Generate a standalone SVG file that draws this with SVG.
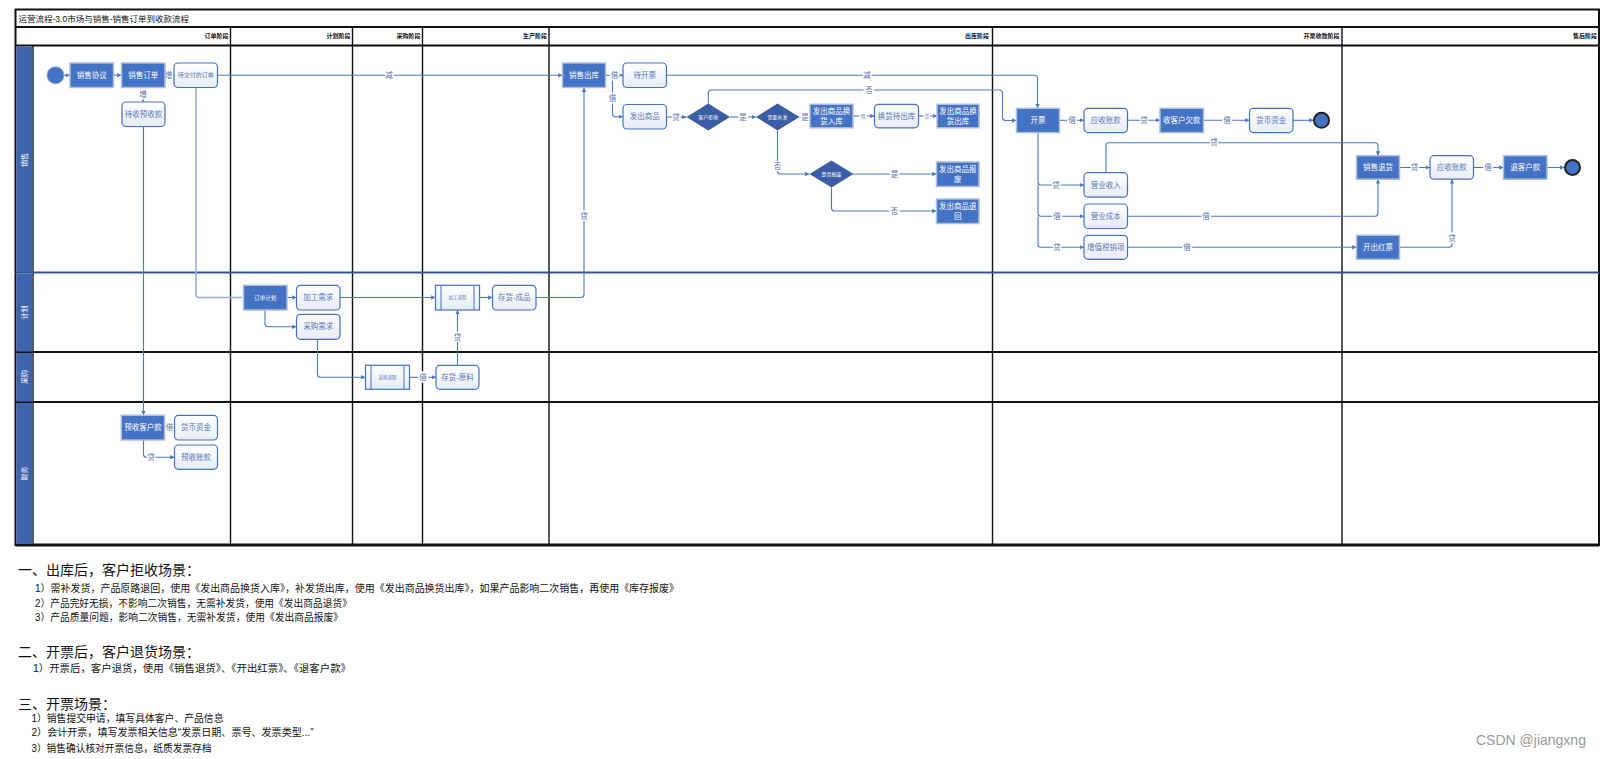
<svg xmlns="http://www.w3.org/2000/svg" width="1619" height="759" viewBox="0 0 1619 759">
<style>
text{font-family:'Liberation Sans','Noto Sans CJK SC',sans-serif}
.bx{fill:#4472C4;stroke:#AFBEDA;stroke-width:1.5}
.rd{fill:url(#g);stroke:#4472C4;stroke-width:1.2}
.dm{fill:#3A5DA5}
.tw{fill:#fff;font-size:7.5px;text-anchor:middle;dominant-baseline:central}
.tb{fill:#5A78B6;font-size:7.5px;text-anchor:middle;dominant-baseline:central}
.ts{font-size:5.5px}
.td{fill:#fff;font-size:5px;text-anchor:middle;dominant-baseline:central}
.c{fill:none;stroke:#4A78C8;stroke-width:1.1;marker-end:url(#a)}
.cl{fill:none;stroke:#94B0E0;stroke-width:1.6}
.lb{fill:#5873AE;font-size:7.5px;text-anchor:middle;dominant-baseline:central;stroke:#fff;stroke-width:3;paint-order:stroke}
.hd{fill:#111;font-size:6px;font-weight:bold;text-anchor:end;dominant-baseline:central}
.ln{fill:#fff;font-size:7px;text-anchor:middle;dominant-baseline:central}
.frm{stroke:#111;fill:none}
.h1{font-size:14px;fill:#111}
.p{font-size:10px;fill:#111}
</style>
<defs>
<linearGradient id="g" x1="0" y1="0" x2="0" y2="1"><stop offset="0" stop-color="#fff"/><stop offset="1" stop-color="#E6ECF7"/></linearGradient>
<marker id="a" viewBox="0 0 6 6" refX="6" refY="3" markerWidth="4" markerHeight="4" orient="auto"><path d="M0,0L6,3L0,6z" fill="#4A78C8"/></marker>
</defs>
<rect width="1619" height="759" fill="#fff"/>

<g id="frame">
<rect x="15.5" y="9.5" width="1583.5" height="535.5" class="frm" stroke-width="2"/>
<line x1="15.5" y1="27" x2="1599" y2="27" class="frm" stroke-width="1.8"/>
<line x1="15.5" y1="45.5" x2="1599" y2="45.5" class="frm" stroke-width="1.8"/>
<g class="frm" stroke-width="1.4">
<line x1="230.5" y1="27" x2="230.5" y2="545"/>
<line x1="352.5" y1="27" x2="352.5" y2="545"/>
<line x1="422.5" y1="27" x2="422.5" y2="545"/>
<line x1="549" y1="27" x2="549" y2="545"/>
<line x1="992.5" y1="27" x2="992.5" y2="545"/>
<line x1="1342" y1="27" x2="1342" y2="545"/>
<line x1="33" y1="45.5" x2="33" y2="545"/>
</g>
<line x1="15.5" y1="272.5" x2="1599" y2="272.5" stroke="#2F5597" stroke-width="1.8"/>
<line x1="15.5" y1="352" x2="1599" y2="352" stroke="#111" stroke-width="2"/>
<line x1="15.5" y1="402" x2="1599" y2="402" stroke="#111" stroke-width="2"/>
<line x1="15.5" y1="545" x2="1599" y2="545" stroke="#111" stroke-width="3"/>
<rect x="16.5" y="46.5" width="16" height="225.5" fill="#3F64AE"/>
<rect x="16.5" y="273.5" width="16" height="78" fill="#3F64AE"/>
<rect x="16.5" y="353" width="16" height="48.5" fill="#3F64AE"/>
<rect x="16.5" y="403" width="16" height="141" fill="#3F64AE"/>
<text x="18.5" y="18.5" font-size="8.5" fill="#111" dominant-baseline="central">运营流程-3.0市场与销售-销售订单到收款流程</text>
<text x="228.5" y="36" class="hd">订单阶段</text>
<text x="350.5" y="36" class="hd">计划阶段</text>
<text x="420.5" y="36" class="hd">采购阶段</text>
<text x="547" y="36" class="hd">生产阶段</text>
<text x="989" y="36" class="hd">出库阶段</text>
<text x="1339.5" y="36" class="hd">开票收款阶段</text>
<text x="1597" y="36" class="hd">售后阶段</text>
<text class="ln" transform="translate(24.5,160) rotate(-90)">销售</text>
<text class="ln" transform="translate(24.5,312.5) rotate(-90)">计划</text>
<text class="ln" transform="translate(24.5,377) rotate(-90)">采购</text>
<text class="ln" transform="translate(24.5,473.5) rotate(-90)">财务</text>
</g>

<g id="connectors">
<path class="cl" d="M196,87.5V294.5Q196,297.5 199,297.5H242"/>
<path class="c" d="M64,75.3H70"/>
<path class="c" d="M113.5,75.3H121.5"/>
<path class="c" d="M165,75.3H174"/>
<path class="c" d="M143,87.5V102"/>
<path class="c" d="M217.5,75.3H562.5"/>
<path class="c" d="M143.5,126.5V415.3"/>
<path class="c" d="M605.5,75.3H623"/>
<path class="c" d="M612.5,75.3V113.7Q612.5,116.7 615.5,116.7H623"/>
<path class="c" d="M666.5,75.3H1034.5Q1037.5,75.3 1037.5,78.3V108.3"/>
<path class="c" d="M666.5,117H686.5"/>
<path class="c" d="M730,117H756"/>
<path class="c" d="M799.5,117H810"/>
<path class="c" d="M853,116H874.5"/>
<path class="c" d="M918.5,116H937"/>
<path class="c" d="M708.3,103.5V93Q708.3,90 711.3,90H999.5Q1002.5,90 1002.5,93V117.5Q1002.5,120.5 1005.5,120.5H1016.5"/>
<path class="c" d="M777.5,130.5V171Q777.5,174 780.5,174H809.5"/>
<path class="c" d="M853.5,174H936.5"/>
<path class="c" d="M831.5,187.5V208Q831.5,211 834.5,211H936.5"/>
<path class="c" d="M536,297.5H581Q584,297.5 584,294.5V87.5"/>
<path class="c" d="M1059.5,120.3H1084"/>
<path class="c" d="M1127.5,120.3H1160"/>
<path class="c" d="M1203.5,120.3H1249.5"/>
<path class="c" d="M1293,120.3H1313.5"/>
<path class="c" d="M1038,132.5V182Q1038,185 1041,185H1084"/>
<path class="c" d="M1038,185V213.3Q1038,216.3 1041,216.3H1084"/>
<path class="c" d="M1038,216.3V244.3Q1038,247.3 1041,247.3H1084"/>
<path class="c" d="M1106,172.7V145.7Q1106,142.7 1109,142.7H1375Q1378,142.7 1378,145.7V155.7"/>
<path class="c" d="M1127.5,216.3H1375Q1378,216.3 1378,213.3V179.2"/>
<path class="c" d="M1127.5,247.3H1356.5"/>
<path class="c" d="M1399.5,247.3H1449Q1452,247.3 1452,244.3V179.2"/>
<path class="c" d="M1399.5,167.5H1430"/>
<path class="c" d="M1473.5,167.5H1503.5"/>
<path class="c" d="M1547,167.5H1564.5"/>
<path class="c" d="M287,297.5H296.5"/>
<path class="c" d="M265,310V323.7Q265,326.7 268,326.7H296.5"/>
<path class="c" d="M340,297.5H435.5"/>
<path class="c" d="M479.5,297.5H492.5"/>
<path class="c" d="M317.5,339.3V374.3Q317.5,377.3 320.5,377.3H365.5"/>
<path class="c" d="M409.5,377.3H436"/>
<path class="c" d="M457.5,365.3V310"/>
<path class="c" d="M164.6,427.5H174.5"/>
<path class="c" d="M143.5,440V454.3Q143.5,457.3 146.5,457.3H174.5"/>
<text class="lb" x="168.5" y="75.3">增</text>
<text class="lb" x="143" y="94.5">增</text>
<text class="lb" x="389" y="75.3">减</text>
<text class="lb" x="614.5" y="75.3">借</text>
<text class="lb" x="612.5" y="98">借</text>
<text class="lb" x="867" y="75.3">减</text>
<text class="lb" x="676" y="117">贷</text>
<text class="lb" x="743" y="117">是</text>
<text class="lb" x="805" y="117">是</text>
<text class="lb" x="863" y="116" style="font-size:4.5px">借</text>
<text class="lb" x="927" y="116" style="font-size:4.5px">贷</text>
<text class="lb" x="869" y="90">否</text>
<text class="lb" x="777.5" y="166.7">否</text>
<text class="lb" x="894.5" y="174">是</text>
<text class="lb" x="894.5" y="211">否</text>
<text class="lb" x="584" y="216">贷</text>
<text class="lb" x="1072" y="120.3">借</text>
<text class="lb" x="1144" y="120.3">贷</text>
<text class="lb" x="1227" y="120.3">借</text>
<text class="lb" x="1056" y="185">贷</text>
<text class="lb" x="1057" y="216.3">借</text>
<text class="lb" x="1057" y="247.3">贷</text>
<text class="lb" x="1214" y="142.7">贷</text>
<text class="lb" x="1206" y="216.3">借</text>
<text class="lb" x="1187" y="247.3">借</text>
<text class="lb" x="1452" y="238.3">贷</text>
<text class="lb" x="1414.5" y="167.5">贷</text>
<text class="lb" x="1488" y="167.5">借</text>
<text class="lb" x="423" y="377.3">借</text>
<text class="lb" x="457.5" y="337">贷</text>
<text class="lb" x="169.5" y="427.5">借</text>
<text class="lb" x="151" y="457.3">贷</text>
</g>

<g id="start"><circle cx="55.5" cy="75.3" r="8.5" fill="#4472C4" stroke="#8FAADC" stroke-width="1"/></g>
<g id="n-xsxy"><rect class="bx" x="70" y="63" width="43.5" height="24.5"/><text class="tw" x="91.8" y="75.3">销售协议</text></g>
<g id="n-xsdd"><rect class="bx" x="121.5" y="63" width="43.5" height="24.5"/><text class="tw" x="143.2" y="75.3">销售订单</text></g>
<g id="n-djfdd"><rect class="rd" x="174" y="63" width="43.5" height="24.5" rx="4"/><text class="tb" x="195.8" y="75.3" style="font-size:6px">待交付的订单</text></g>
<g id="n-dsysk"><rect class="rd" x="122" y="102" width="43" height="24.5" rx="4"/><text class="tb" x="143.5" y="114.3">待收预收款</text></g>
<g id="n-xsck"><rect class="bx" x="562.5" y="63" width="43" height="24.5"/><text class="tw" x="584" y="75.3">销售出库</text></g>
<g id="n-dkp"><rect class="rd" x="623" y="63" width="43.5" height="24.5" rx="4"/><text class="tb" x="644.8" y="75.3">待开票</text></g>
<g id="n-fcsp"><rect class="rd" x="623" y="104.5" width="43.5" height="24.5" rx="4"/><text class="tb" x="644.8" y="116.8">发出商品</text></g>
<g id="d-khjs"><path class="dm" d="M686.5,117L708.3,103.5L730,117L708.3,130.5z"/><text class="td" x="708.3" y="117">客户拒收</text></g>
<g id="d-xybf"><path class="dm" d="M756,117L777.5,103.5L799.5,117L777.5,130.5z"/><text class="td" x="777.5" y="117">需要补发</text></g>
<g id="n-hhrk"><rect class="bx" x="810" y="104.3" width="43" height="23.5"/><text class="tw" x="831.5" y="111.8">发出商品换</text><text class="tw" x="831.5" y="121">货入库</text></g>
<g id="n-hhdck"><rect class="rd" x="874.5" y="104.3" width="44" height="23.5" rx="4"/><text class="tb" x="896.5" y="116">换货待出库</text></g>
<g id="n-hhck"><rect class="bx" x="937" y="104.3" width="42" height="23.5"/><text class="tw" x="958" y="111.8">发出商品换</text><text class="tw" x="958" y="121">货出库</text></g>
<g id="d-sfbf"><path class="dm" d="M809.5,174L831.5,160.5L853.5,174L831.5,187.5z"/><text class="td" x="831.5" y="174">是否报废</text></g>
<g id="n-spbf"><rect class="bx" x="936.5" y="162" width="42.5" height="24.5"/><text class="tw" x="957.8" y="169.8">发出商品报</text><text class="tw" x="957.8" y="179">废</text></g>
<g id="n-spth"><rect class="bx" x="936.5" y="199" width="42.5" height="24.5"/><text class="tw" x="957.8" y="206.8">发出商品退</text><text class="tw" x="957.8" y="216">回</text></g>
<g id="n-kp"><rect class="bx" x="1016.5" y="108.3" width="43" height="24.3"/><text class="tw" x="1038" y="120.4">开票</text></g>
<g id="n-yszk1"><rect class="rd" x="1084" y="108.3" width="43.5" height="24.3" rx="4"/><text class="tb" x="1105.8" y="120.4">应收账款</text></g>
<g id="n-skhqk"><rect class="bx" x="1160" y="108.3" width="43.5" height="24.3"/><text class="tw" x="1181.8" y="120.4">收客户欠款</text></g>
<g id="n-hbzj1"><rect class="rd" x="1249.5" y="108.3" width="43.5" height="24.3" rx="4"/><text class="tb" x="1271.3" y="120.4">货币资金</text></g>
<g id="end1"><circle cx="1321.5" cy="120.3" r="7.5" fill="#4472C4" stroke="#222" stroke-width="2"/></g>
<g id="n-yysr"><rect class="rd" x="1084" y="172.7" width="43.5" height="24.5" rx="4"/><text class="tb" x="1105.8" y="185">营业收入</text></g>
<g id="n-yycb"><rect class="rd" x="1084" y="204" width="43.5" height="24.5" rx="4"/><text class="tb" x="1105.8" y="216.3">营业成本</text></g>
<g id="n-zzsxx"><rect class="rd" x="1084" y="235.3" width="43.5" height="24" rx="4"/><text class="tb" x="1105.8" y="247.3">增值税销项</text></g>
<g id="n-xsth"><rect class="bx" x="1356.5" y="155.7" width="43" height="23.5"/><text class="tw" x="1378" y="167.5">销售退货</text></g>
<g id="n-yszk2"><rect class="rd" x="1430" y="155.7" width="43.5" height="23.5" rx="4"/><text class="tb" x="1451.8" y="167.5">应收账款</text></g>
<g id="n-tkhk"><rect class="bx" x="1503.5" y="155.7" width="43.5" height="23.5"/><text class="tw" x="1525.3" y="167.5">退客户款</text></g>
<g id="end2"><circle cx="1572.5" cy="167.5" r="7.5" fill="#4472C4" stroke="#222" stroke-width="2"/></g>
<g id="n-kchp"><rect class="bx" x="1356.5" y="235.3" width="43" height="24"/><text class="tw" x="1378" y="247.3">开出红票</text></g>
<g id="n-ddjh"><rect class="bx" x="243.5" y="285.3" width="43.5" height="24.7"/><text class="tw ts" x="265.2" y="297.6">订单计划</text></g>
<g id="n-jgxq"><rect class="rd" x="296.5" y="285.3" width="43.5" height="24.7" rx="4"/><text class="tb" x="318.2" y="297.6">加工需求</text></g>
<g id="n-cgxq"><rect class="rd" x="296.5" y="314.3" width="43.5" height="25" rx="4"/><text class="tb" x="318.2" y="326.8">采购需求</text></g>
<g id="n-jglc"><rect class="rd" x="435.5" y="285.3" width="44" height="24.7"/><line x1="441" y1="285.3" x2="441" y2="310" stroke="#4472C4" stroke-width="1"/><line x1="474" y1="285.3" x2="474" y2="310" stroke="#4472C4" stroke-width="1"/><text class="tb" x="457.5" y="297.6" style="font-size:4.5px">加工流程</text></g>
<g id="n-chcp"><rect class="rd" x="492.5" y="285.3" width="43.5" height="24.7" rx="4"/><text class="tb" x="514.2" y="297.6">存货-成品</text></g>
<g id="n-cglc"><rect class="rd" x="365.5" y="365.3" width="44" height="24"/><line x1="371" y1="365.3" x2="371" y2="389.3" stroke="#4472C4" stroke-width="1"/><line x1="404" y1="365.3" x2="404" y2="389.3" stroke="#4472C4" stroke-width="1"/><text class="tb" x="387.5" y="377.3" style="font-size:4.5px">采购流程</text></g>
<g id="n-chyl"><rect class="rd" x="436" y="365.3" width="43" height="24" rx="4"/><text class="tb" x="457.5" y="377.3">存货-原料</text></g>
<g id="n-yskhk"><rect class="bx" x="121.3" y="415.3" width="43.3" height="24.7"/><text class="tw" x="143" y="427.6">预收客户款</text></g>
<g id="n-hbzj2"><rect class="rd" x="174.5" y="415.3" width="43" height="24.7" rx="4"/><text class="tb" x="196" y="427.6">货币资金</text></g>
<g id="n-yszk3"><rect class="rd" x="174.5" y="445" width="43" height="24.3" rx="4"/><text class="tb" x="196" y="457.2">预收账款</text></g>

<g id="notes">
<text class="h1" x="18" y="575">一、出库后，客户拒收场景：</text>
<text class="p" x="35" y="592" textLength="644" lengthAdjust="spacingAndGlyphs">1）需补发货，产品原路退回，使用《发出商品换货入库》，补发货出库，使用《发出商品换货出库》，如果产品影响二次销售，再使用《库存报废》</text>
<text class="p" x="35" y="607" textLength="317" lengthAdjust="spacingAndGlyphs">2）产品完好无损，不影响二次销售，无需补发货，使用《发出商品退货》</text>
<text class="p" x="35" y="620.5" textLength="308" lengthAdjust="spacingAndGlyphs">3）产品质量问题，影响二次销售，无需补发货，使用《发出商品报废》</text>
<text class="h1" x="18" y="657">二、开票后，客户退货场景：</text>
<text class="p" x="33" y="671.5" textLength="318" lengthAdjust="spacingAndGlyphs">1）开票后，客户退货，使用《销售退货》、《开出红票》、《退客户款》</text>
<text class="h1" x="18" y="708.5">三、开票场景：</text>
<text class="p" x="31.5" y="721.5" textLength="192" lengthAdjust="spacingAndGlyphs">1）销售提交申请，填写具体客户、产品信息</text>
<text class="p" x="31.5" y="736" textLength="282" lengthAdjust="spacingAndGlyphs">2）会计开票，填写发票相关信息“发票日期、票号、发票类型...”</text>
<text class="p" x="31.5" y="751.5" textLength="180" lengthAdjust="spacingAndGlyphs">3）销售确认核对开票信息，纸质发票存档</text>
<text x="1476" y="745" font-size="14" fill="#9a9a9a">CSDN @jiangxng</text>
</g>
</svg>
